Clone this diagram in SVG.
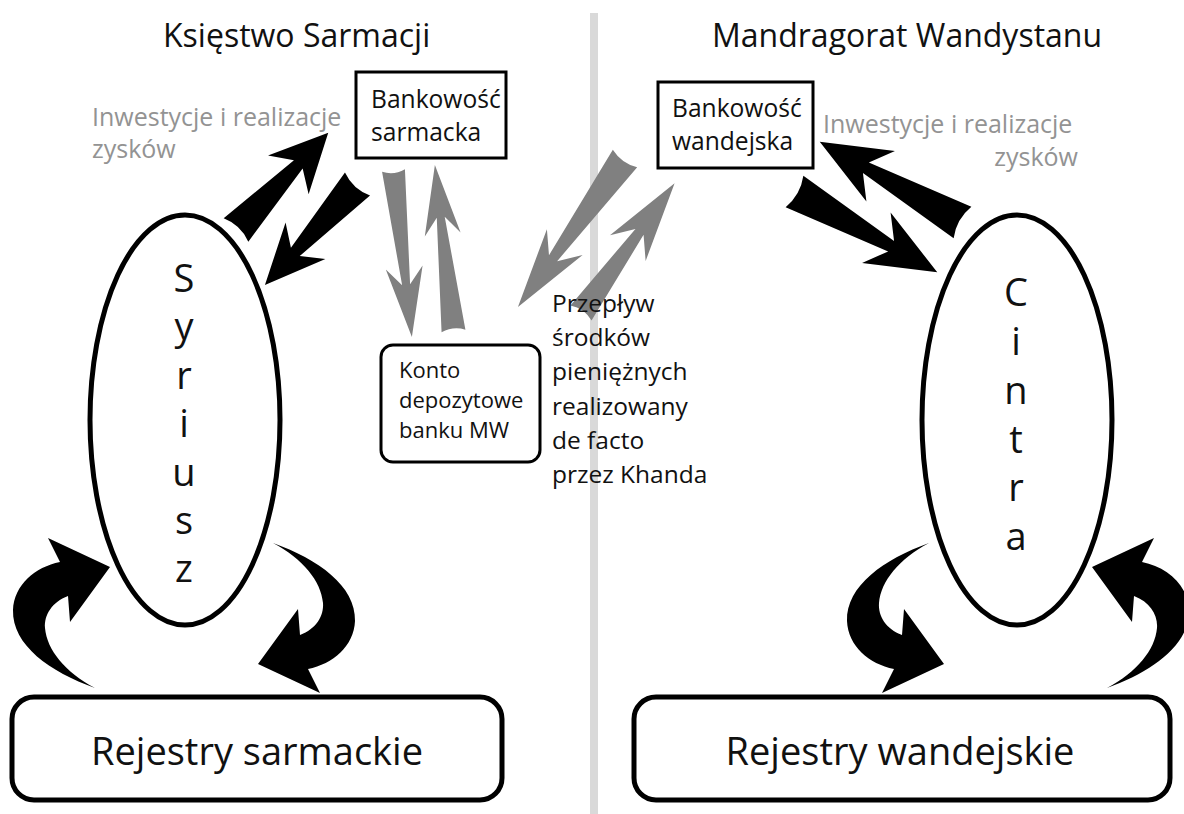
<svg xmlns="http://www.w3.org/2000/svg" width="1184" height="814" viewBox="0 0 1184 814">
<style>
.t{font-family:"Open Sans","Noto Sans",sans-serif;fill:#111}
.title{font-size:32px}
.bank{font-size:24.6px}
.gray{font-size:25px;fill:#939393}
.small{font-size:22px}
.flow{font-size:24.5px}
.big{font-size:38px}
.reg{font-size:38px}
.box{fill:#fff;stroke:#000;stroke-width:3}
.ell{fill:#fff;stroke:#000;stroke-width:5}
.rbox{fill:#fff;stroke:#000;stroke-width:5}
.blk{fill:#000}
.gry{fill:#808080}
</style>
<defs>
<path id="curl" d="M95,688 C50,672 12,645 13,610 C14,585 35,567 60,562 L48,538 L110,567 L70,622 L68,596 C52,602 44,615 45,628 C47,650 65,672 95,688 Z"/>
</defs>
<rect width="1184" height="814" fill="#fff"/>
<rect id="divider" x="590" y="13" width="8" height="801" fill="#d9d9d9"/>

<g id="connectors">
<path class="blk" transform="translate(236,230) rotate(-46.5)" d="M0,-17 L90.5,-6 L76,-28 L134,0 L76,28 L90.5,6 L0,17 Q7,0 0,-17 Z"/>
<path class="blk" transform="translate(357.5,184) rotate(132.5)" d="M0,-17 L92,-6 L77,-27 L137,0 L77,27 L92,6 L0,17 Q7,0 0,-17 Z"/>
<path class="gry" transform="translate(393.5,170.5) rotate(83.7)" d="M0,-11.5 L115,-4 L97.5,-18.5 L167.5,0 L97.5,18.5 L115,4 L0,11.5 Q5,0 0,-11.5 Z"/>
<path class="gry" transform="translate(453.5,331) rotate(-96.4)" d="M0,-12 L114.5,-4 L97,-18 L167,0 L97,18 L114.5,4 L0,12 Q5,0 0,-12 Z"/>
<path class="gry" transform="translate(625,158.5) rotate(125.8)" d="M0,-15 L123,-5 L103,-22 L183,0 L103,22 L123,5 L0,15 Q6,0 0,-15 Z"/>
<path class="gry" transform="translate(581,313) rotate(-54.2)" d="M0,-13 L100,-5 L80,-22 L160,0 L80,22 L100,5 L0,13 Q6,0 0,-13 Z"/>
<path class="blk" transform="translate(962.5,222.5) rotate(-150.5)" d="M0,-18 L111,-6 L94,-29 L164,0 L94,29 L111,6 L0,18 Q7,0 0,-18 Z"/>
<path class="blk" transform="translate(794.5,191.5) rotate(29.5)" d="M0,-18 L111,-6 L94,-29 L164,0 L94,29 L111,6 L0,18 Q7,0 0,-18 Z"/>
<use href="#curl" class="blk"/>
<use href="#curl" class="blk" transform="rotate(180 184 615.5)"/>
<use href="#curl" class="blk" transform="matrix(-1 0 0 1 1202 0) rotate(180 184 615.5)"/>
<use href="#curl" class="blk" transform="matrix(-1 0 0 1 1202 0)"/>
</g>

<text class="t title" x="163" y="47">Księstwo Sarmacji</text>
<text class="t title" x="712" y="47">Mandragorat Wandystanu</text>

<text class="t gray" x="92" y="126">Inwestycje i realizacje</text>
<text class="t gray" x="92" y="158">zysków</text>
<text class="t gray" x="823" y="133">Inwestycje i realizacje</text>
<text class="t gray" x="1078" y="166" text-anchor="end">zysków</text>

<g id="node-bank-sarmacka">
<rect class="box" x="356" y="72" width="150" height="86"/>
<text class="t bank" x="371" y="108">Bankowość</text>
<text class="t bank" x="371" y="141">sarmacka</text>
</g>

<g id="node-bank-wandejska">
<rect class="box" x="658" y="82" width="155" height="86"/>
<text class="t bank" x="672" y="117">Bankowość</text>
<text class="t bank" x="672" y="150">wandejska</text>
</g>

<g id="node-konto">
<rect class="box" x="381" y="345" width="159" height="117" rx="12" stroke-width="3.5"/>
<text class="t small" x="399" y="378">Konto</text>
<text class="t small" x="399" y="408">depozytowe</text>
<text class="t small" x="399" y="438">banku MW</text>
</g>

<g id="label-flow">
<text class="t flow" x="552" y="312">Przepływ</text>
<text class="t flow" x="552" y="346">środków</text>
<text class="t flow" x="552" y="380">pieniężnych</text>
<text class="t flow" x="552" y="415">realizowany</text>
<text class="t flow" x="552" y="449">de facto</text>
<text class="t flow" x="552" y="483">przez Khanda</text>
</g>

<g id="node-syriusz">
<ellipse class="ell" cx="185" cy="420" rx="95" ry="205"/>
<text class="t big" text-anchor="middle">
<tspan x="184" y="292">S</tspan><tspan x="184" y="340">y</tspan><tspan x="184" y="389">r</tspan><tspan x="184" y="437">i</tspan><tspan x="184" y="486">u</tspan><tspan x="184" y="534">s</tspan><tspan x="184" y="582">z</tspan>
</text>
</g>

<g id="node-cintra">
<ellipse class="ell" cx="1017" cy="420" rx="95" ry="205"/>
<text class="t big" text-anchor="middle">
<tspan x="1016" y="306">C</tspan><tspan x="1016" y="355">i</tspan><tspan x="1016" y="404">n</tspan><tspan x="1016" y="453">t</tspan><tspan x="1016" y="501">r</tspan><tspan x="1016" y="550">a</tspan>
</text>
</g>

<g id="node-rejestry-sarmackie">
<rect class="rbox" x="12" y="697" width="490" height="103" rx="22"/>
<text class="t reg" x="257" y="765" text-anchor="middle">Rejestry sarmackie</text>
</g>

<g id="node-rejestry-wandejskie">
<rect class="rbox" x="634" y="697" width="536" height="103" rx="22"/>
<text class="t reg" x="900" y="765" text-anchor="middle">Rejestry wandejskie</text>
</g>
</svg>
